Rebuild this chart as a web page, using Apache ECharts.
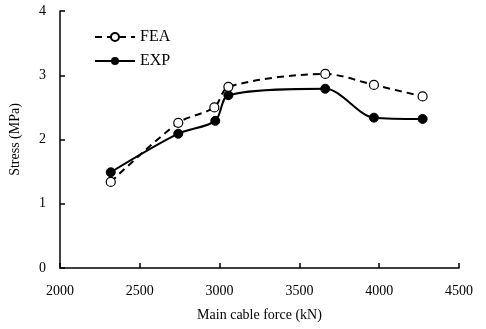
<!DOCTYPE html>
<html>
<head>
<meta charset="utf-8">
<script src="https://cdn.jsdelivr.net/npm/echarts@6/dist/echarts.min.js"></script>
<style>
  html, body { margin: 0; padding: 0; background: #fff; }
  #chart { width: 486px; height: 329px; }
</style>
</head>
<body>
<div id="chart"></div>
<script>
// main cable force (kN)
var forceFEA = [2318, 2741, 2967, 3055, 3662, 3967, 4272];
var stressFEA = [1.34, 2.26, 2.50, 2.82, 3.02, 2.85, 2.67];
var forceEXP = [2318, 2741, 2973, 3055, 3662, 3967, 4272];
var stressEXP = [1.49, 2.09, 2.29, 2.69, 2.79, 2.34, 2.32];

var fontFam = '"Liberation Serif", "Times New Roman", serif';

function pairs(xs, ys) {
    return xs.map(function(x, i) { return [x, ys[i]]; });
}

var chart = echarts.init(document.getElementById('chart'));

var option = {
    backgroundColor: '#fff',
    animation: false,
    textStyle: { fontFamily: fontFam, color: '#000' },
    grid: { left: 60, right: 27, top: 11, bottom: 61 },
    legend: {
        orient: 'vertical',
        left: 89,
        top: 24,
        itemWidth: 40,
        itemHeight: 10,
        itemGap: 8,
        textStyle: { fontFamily: fontFam, fontSize: 16, color: '#000' },
        data: ['FEA', 'EXP']
    },
    xAxis: {
        type: 'value',
        min: 2000,
        max: 4500,
        interval: 500,
        name: 'Main cable force (kN)',
        nameLocation: 'middle',
        nameGap: 40,
        nameTextStyle: { fontFamily: fontFam, fontSize: 14, color: '#000' },
        axisLine: { lineStyle: { color: '#000', width: 1.5 } },
        axisTick: { inside: true, length: 5, lineStyle: { color: '#000', width: 1.5 } },
        axisLabel: {
            fontFamily: fontFam, fontSize: 14, color: '#000', margin: 16,
            formatter: function(v) { return String(v); }
        },
        splitLine: { show: false }
    },
    yAxis: {
        type: 'value',
        min: 0,
        max: 4,
        interval: 1,
        name: 'Stress (MPa)',
        nameLocation: 'middle',
        nameGap: 38,
        nameTextStyle: { fontFamily: fontFam, fontSize: 14, color: '#000' },
        axisLine: { show: true, lineStyle: { color: '#000', width: 1.5 } },
        axisTick: { show: true, inside: true, length: 5, lineStyle: { color: '#000', width: 1.5 } },
        axisLabel: { fontFamily: fontFam, fontSize: 14, color: '#000', margin: 14 },
        splitLine: { show: false }
    },
    series: [
        {
            name: 'FEA',
            type: 'line',
            smooth: 0.3,
            symbol: 'circle',
            symbolSize: 9,
            lineStyle: { color: '#000', width: 2, type: [7, 5] },
            itemStyle: { color: '#fff', borderColor: '#000', borderWidth: 1.2 },
            data: pairs(forceFEA, stressFEA),
            z: 3
        },
        {
            name: 'EXP',
            type: 'line',
            smooth: 0.3,
            symbol: 'circle',
            symbolSize: 9,
            lineStyle: { color: '#000', width: 2 },
            itemStyle: { color: '#000', borderColor: '#000' },
            data: pairs(forceEXP, stressEXP),
            z: 2
        }
    ]
};

chart.setOption(option);
</script>
</body>
</html>
